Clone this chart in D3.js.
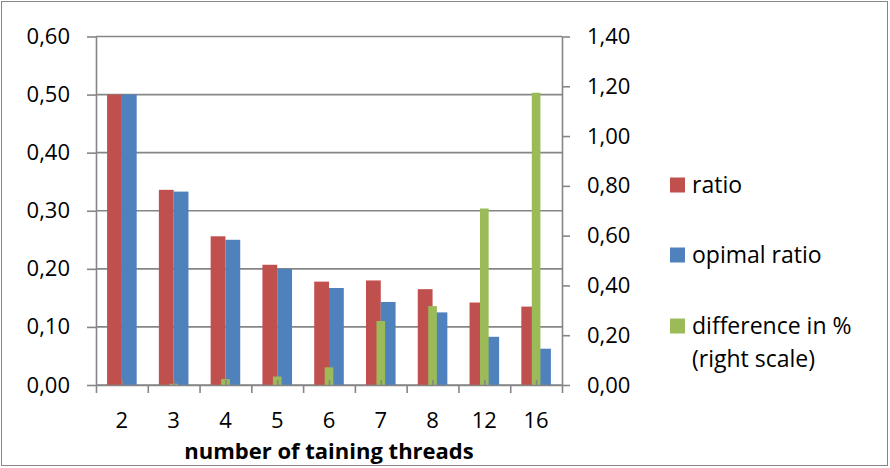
<!DOCTYPE html>
<html>
<head>
<meta charset="utf-8">
<script src="https://cdn.jsdelivr.net/npm/d3@7"></script>
<style>
  html, body { margin: 0; padding: 0; background: #fff; }
  svg { display: block; font-family: "Open Sans", "Liberation Sans", sans-serif; }
</style>
</head>
<body>
<svg id="chart" width="890" height="468"></svg>
<script>
// Thread counts and measured ratios
const categories = ["2", "3", "4", "5", "6", "7", "8", "12", "16"];
const ratio = [0.500, 0.336, 0.256, 0.207, 0.178, 0.180, 0.165, 0.142, 0.135];
const optimalRatio = [0.500, 0.333, 0.250, 0.200, 0.167, 0.143, 0.125, 0.083, 0.0625];
const differencePct = [0.000, 0.005, 0.024, 0.034, 0.071, 0.257, 0.317, 0.709, 1.174];

const leftTicks = [0, 0.1, 0.2, 0.3, 0.4, 0.5, 0.6];
const rightTicks = [0, 0.2, 0.4, 0.6, 0.8, 1.0, 1.2, 1.4];

const seriesNames = ["ratio", "opimal ratio", "difference in %", "(right scale)"];
const xTitle = "number of taining threads";

const colors = { ratio: "#C0504D", optimal: "#4F81BD", diff: "#9BBB59" };
const axisColor = "#868686";

const svg = d3.select("#chart");
const plot = { left: 96, right: 562, top: 36.5, bottom: 385 };

const fmt = d3.formatLocale({ decimal: ",", thousands: ".", grouping: [3], currency: ["", ""] }).format(".2f");

// Scales
const x = d3.scaleBand().domain(categories).range([plot.left, plot.right]).paddingInner(0).paddingOuter(0);
const yL = d3.scaleLinear().domain([0, 0.6]).range([plot.bottom, plot.top]);
const yR = d3.scaleLinear().domain([0, 1.4]).range([plot.bottom, plot.top]);

// Primary series: two bars per category with a 150% gap
const xPair = d3.scaleBand().domain(["ratio", "optimal"]).range([0, x.bandwidth()]).paddingInner(0).paddingOuter(0.75);
// Secondary series: one narrow bar per category with a 500% gap
const xDiff = d3.scaleBand().domain(["diff"]).range([0, x.bandwidth()]).paddingInner(0).paddingOuter(2.5);

// Outer frame
svg.append("rect")
  .attr("x", 1.5).attr("y", 1.5).attr("width", 886).attr("height", 464)
  .attr("fill", "#fff").attr("stroke", axisColor).attr("stroke-width", 1);

// Horizontal gridlines
svg.append("g")
  .selectAll("line")
  .data(leftTicks)
  .join("line")
  .attr("x1", plot.left).attr("x2", plot.right)
  .attr("y1", d => yL(d)).attr("y2", d => yL(d))
  .attr("stroke", axisColor).attr("stroke-width", 1.6);

// Bars
const rows = categories.map((c, i) => ({ c, ratio: ratio[i], optimal: optimalRatio[i], diff: differencePct[i] }));

const bars = svg.append("g");
bars.selectAll("rect.ratio")
  .data(rows).join("rect").attr("class", "ratio")
  .attr("x", d => x(d.c) + xPair("ratio"))
  .attr("width", xPair.bandwidth())
  .attr("y", d => yL(d.ratio))
  .attr("height", d => yL(0) - yL(d.ratio))
  .attr("fill", colors.ratio);

bars.selectAll("rect.optimal")
  .data(rows).join("rect").attr("class", "optimal")
  .attr("x", d => x(d.c) + xPair("optimal"))
  .attr("width", xPair.bandwidth())
  .attr("y", d => yL(d.optimal))
  .attr("height", d => yL(0) - yL(d.optimal))
  .attr("fill", colors.optimal);

bars.selectAll("rect.diff")
  .data(rows).join("rect").attr("class", "diff")
  .attr("x", d => x(d.c) + xDiff("diff"))
  .attr("width", xDiff.bandwidth())
  .attr("y", d => yR(d.diff))
  .attr("height", d => yR(0) - yR(d.diff))
  .attr("fill", colors.diff);

// Secondary category axis: small ticks at category centres
const xCenter = d3.scalePoint().domain(categories).range([plot.left + x.bandwidth() / 2, plot.right - x.bandwidth() / 2]);
const secAxis = svg.append("g")
  .attr("transform", `translate(0,${plot.bottom})`)
  .call(d3.axisBottom(xCenter).tickSizeInner(-5).tickSizeOuter(0).tickFormat(""));
secAxis.select(".domain").remove();
secAxis.selectAll(".tick line").attr("stroke", axisColor).attr("stroke-width", 1.6);

// Left axis
const gL = svg.append("g")
  .attr("transform", `translate(${plot.left},0)`)
  .call(d3.axisLeft(yL).tickValues(leftTicks).tickFormat(fmt).tickSizeInner(9).tickSizeOuter(0).tickPadding(17));
// Right axis
const gR = svg.append("g")
  .attr("transform", `translate(${plot.right},0)`)
  .call(d3.axisRight(yR).tickValues(rightTicks).tickFormat(fmt).tickSizeInner(8).tickSizeOuter(0).tickPadding(17));
// Category axis with ticks at category boundaries
const boundaries = d3.range(categories.length + 1);
const xEdge = d3.scaleLinear().domain([0, categories.length]).range([plot.left, plot.right]);
const gB = svg.append("g")
  .attr("transform", `translate(0,${plot.bottom})`)
  .call(d3.axisBottom(xEdge).tickValues(boundaries).tickSizeInner(8).tickSizeOuter(0).tickFormat(""));

[gL, gR, gB].forEach(g => {
  g.select(".domain").attr("stroke", axisColor).attr("stroke-width", 1.6);
  g.selectAll(".tick line").attr("stroke", axisColor).attr("stroke-width", 1.6);
  g.selectAll(".tick text").attr("fill", "#000").attr("font-size", 22).attr("font-family", "Open Sans, sans-serif");
});

// Category labels
svg.append("g")
  .selectAll("text")
  .data(categories)
  .join("text")
  .attr("x", d => x(d) + x.bandwidth() / 2)
  .attr("y", 428)
  .attr("text-anchor", "middle")
  .attr("font-size", 22)
  .attr("fill", "#000")
  .text(d => d);

// Axis title
svg.append("text")
  .attr("x", (plot.left + plot.right) / 2)
  .attr("y", 459)
  .attr("text-anchor", "middle")
  .attr("font-size", 22)
  .attr("font-weight", "bold")
  .attr("fill", "#000")
  .text(xTitle);

// Legend
const legend = [
  { color: colors.ratio, lines: [seriesNames[0]], cy: 185 },
  { color: colors.optimal, lines: [seriesNames[1]], cy: 255 },
  { color: colors.diff, lines: [seriesNames[2], seriesNames[3]], cy: 326 }
];
const lg = svg.append("g");
legend.forEach(item => {
  lg.append("rect")
    .attr("x", 670).attr("y", item.cy - 7.5)
    .attr("width", 15).attr("height", 15)
    .attr("fill", item.color);
  item.lines.forEach((t, k) => {
    lg.append("text")
      .attr("x", 692)
      .attr("y", item.cy + k * 33)
      .attr("dy", "0.36em")
      .attr("font-size", 23)
      .attr("fill", "#000")
      .text(t);
  });
});
</script>
</body>
</html>
